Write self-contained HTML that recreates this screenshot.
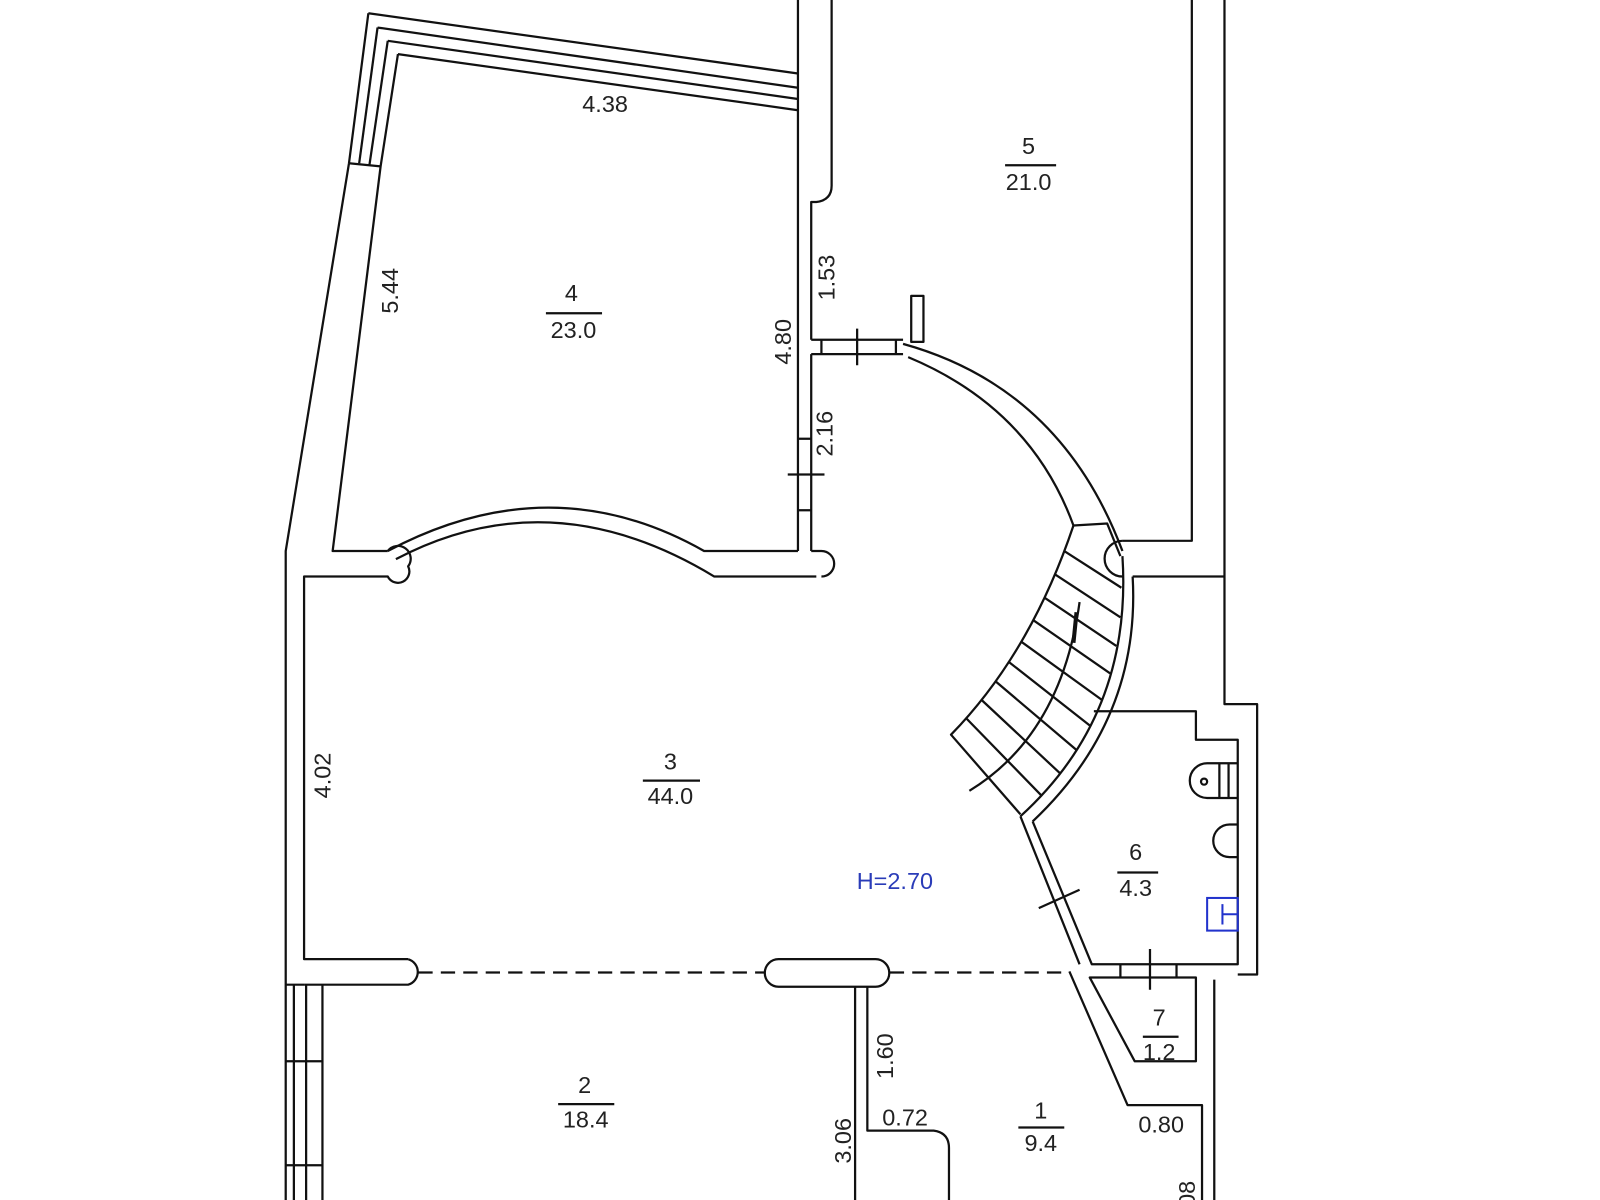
<!DOCTYPE html>
<html><head><meta charset="utf-8"><style>
html,body{margin:0;padding:0;background:#fff;}
svg{display:block;}
text{font-family:"Liberation Sans",sans-serif;font-size:23px;fill:#222;}
</style></head><body>
<svg width="1600" height="1200" viewBox="0 0 1600 1200" xmlns="http://www.w3.org/2000/svg">
<g transform="scale(1.0204)">
<g fill="none" stroke="#111" stroke-width="2.2" stroke-linejoin="round">
<path d="M361 13 L782 72"/>
<path d="M370 27 L782 86"/>
<path d="M380 40 L782 97"/>
<path d="M390 53 L782 108"/>
<path d="M361 13 L342 160 L280 540 L280 1200"/>
<path d="M370 27 L352 160"/>
<path d="M380 40 L362 162"/>
<path d="M390 53 L373 163 L326 540 L380 540"/>
<path d="M342 160 L373 163"/>
<path d="M782 0 L782 540"/>
<path d="M815 0 L815 182 Q815 196 800 198 L795 198 L795 333"/>
<path d="M795 347 L795 540"/>
<path d="M795 333 L885 333 M795 347 L885 347 M805 333 L805 347 M878 333 L878 347"/>
<path d="M840 322 L840 358 M772 465 L808 465 M782 430 L795 430 M782 500 L795 500"/>
<rect x="893" y="290" width="12" height="45"/>
<path d="M380 540 Q540 455 690 540 L782 540"/>
<path d="M388 548 Q540 468 700 565 L800 565"/>
<path d="M380 540 A12 12 0 0 1 400 555 A10 10 0 0 1 380 565 L298 565 L298 940 L400 940"/>
<path d="M795 540 L805 540 A12 12 0 0 1 805 565"/>
<path d="M1168 0 L1168 530 L1100 530"/>
<path d="M1200 0 L1200 690 L1232 690 L1232 955 L1213 955"/>
<path d="M1110 565 L1200 565"/>
<path d="M1100 530 A13 13 0 0 0 1100 565"/>
<path d="M885 337 Q1040 380 1100 540"/>
<path d="M890 350 Q1010 400 1052 515"/>
<path d="M1052 515 L1085 513 L1098 545"/>
<path d="M1100 545 Q1110 700 1000 800"/>
<path d="M1110 565 Q1118 705 1012 805"/>
<path d="M1052 515 Q1010 640 932 720 L1000 798"/>
<path d="M1043 540 L1099 576 M1034 563 L1098 605 M1024 586 L1094 633 M1013 608 L1088 660 M1001 629 L1080 686 M989 649 L1068 711 M976 668 L1055 735 M962 686 L1039 758 M947 704 L1021 780"/>
<path d="M950 775 Q1040 720 1058 590"/>
<path d="M1055 600 L1052 630" stroke-width="4"/>
<path d="M1012 805 L1070 945 L1213 945 L1213 725 L1172 725 L1172 697 L1072 697"/>
<path d="M1000 800 L1058 945"/>
<path d="M1213 748 L1183 748 A17 17 0 0 0 1183 782 L1213 782 M1195 748 L1195 782 M1204 748 L1204 782"/>
<circle cx="1180" cy="766" r="3"/>
<path d="M1213 808 L1205 808 A14 14 0 0 0 1205 840 L1213 840"/>
<path d="M1018 890 L1058 872"/>
<path d="M1098 945 L1098 958 M1153 945 L1153 958 M1127 930 L1127 970"/>
<path d="M1048 952 L1105 1083 L1178 1083 L1178 1200"/>
<path d="M1068 958 L1172 958 L1172 1040 L1112 1040 Z"/>
<path d="M1190 960 L1190 1200"/>
<path d="M298 965 L400 965 A13 13 0 0 0 400 940"/>
<path d="M763 940 L858 940 A13 13 0 0 1 858 967 L763 967 A13 13 0 0 1 763 940"/>
<path d="M838 967 L838 1200 M850 967 L850 1108 L915 1108 Q930 1110 930 1125 L930 1200"/>
<path d="M288 965 L288 1200 M300 965 L300 1200 M316 965 L316 1200 M280 965 L298 965"/>
<path d="M280 1040 L316 1040 M280 1142 L316 1142"/>
<path d="M410 953 L750 953 M872 953 L1048 953" stroke-dasharray="14 8"/>
<path d="M535 307 L590 307 M985 162 L1035 162 M630 765 L686 765 M1095 855 L1135 855 M1120 1016 L1155 1016 M547 1082 L602 1082 M998 1105 L1043 1105"/>
</g>
<rect x="1183" y="880" width="30" height="32" fill="none" stroke="#2233cc" stroke-width="2"/>
<path d="M1198 886 L1198 906 M1198 896 L1213 896" stroke="#2233cc" stroke-width="2"/>
<text x="593" y="110" text-anchor="middle">4.38</text>
<text transform="translate(390,285) rotate(-90)" text-anchor="middle">5.44</text>
<text x="560" y="295" text-anchor="middle">4</text>
<text x="562" y="331" text-anchor="middle">23.0</text>
<text transform="translate(775,335) rotate(-90)" text-anchor="middle">4.80</text>
<text transform="translate(818,272) rotate(-90)" text-anchor="middle">1.53</text>
<text transform="translate(816,425) rotate(-90)" text-anchor="middle">2.16</text>
<text x="1008" y="151" text-anchor="middle">5</text>
<text x="1008" y="186" text-anchor="middle">21.0</text>
<text x="657" y="754" text-anchor="middle">3</text>
<text x="657" y="788" text-anchor="middle">44.0</text>
<text transform="translate(324,760) rotate(-90)" text-anchor="middle">4.02</text>
<text x="877" y="871" text-anchor="middle" style="fill:#2a3cb8">H=2.70</text>
<text x="1113" y="843" text-anchor="middle">6</text>
<text x="1113" y="878" text-anchor="middle">4.3</text>
<text x="1136" y="1005" text-anchor="middle">7</text>
<text x="1136" y="1039" text-anchor="middle">1.2</text>
<text x="573" y="1071" text-anchor="middle">2</text>
<text x="574" y="1105" text-anchor="middle">18.4</text>
<text transform="translate(875,1035) rotate(-90)" text-anchor="middle">1.60</text>
<text x="887" y="1103" text-anchor="middle">0.72</text>
<text transform="translate(834,1118) rotate(-90)" text-anchor="middle">3.06</text>
<text x="1020" y="1096" text-anchor="middle">1</text>
<text x="1020" y="1128" text-anchor="middle">9.4</text>
<text x="1138" y="1110" text-anchor="middle">0.80</text>
<text transform="translate(1171,1170) rotate(-90)" text-anchor="middle">08</text>
</g>
</svg>
</body></html>
